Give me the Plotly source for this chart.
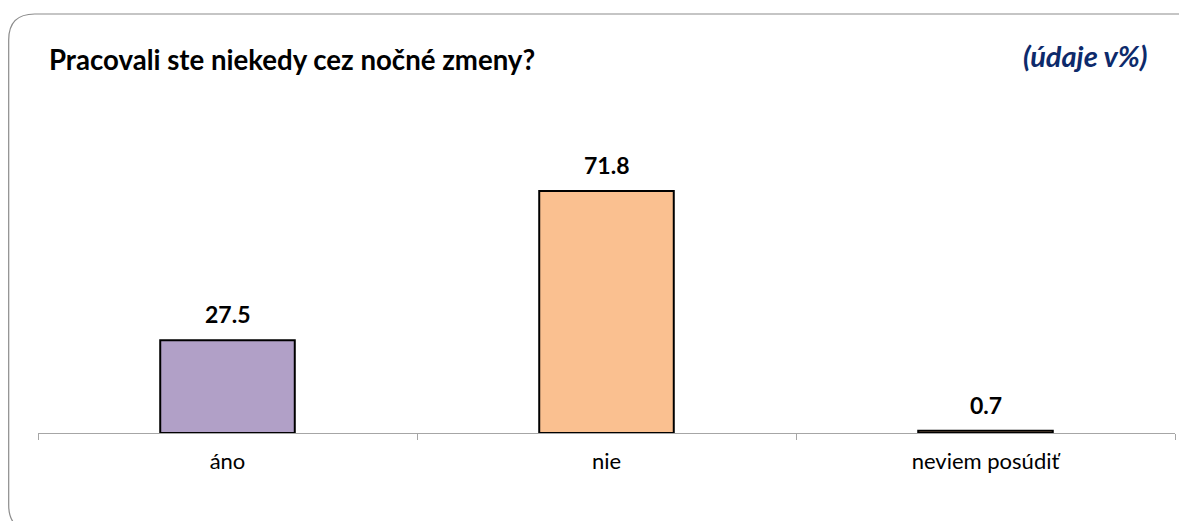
import plotly.graph_objects as go

categories = ["áno", "nie", "neviem posúdiť"]
values = [27.5, 71.8, 0.7]
bar_colors = ["#B1A0C7", "#FAC090", "#FAC090"]
title_text = "Pracovali ste niekedy cez nočné zmeny?"
unit_text = "(údaje v%)"

OFF = 8  # page body margin
W, H = 1187 - OFF, 521 - OFF
# plot area in page pixels
L, R, T, B = 38, 1175, 96, 433


def px(x):
    return (x - L) / (R - L)


def py(y):
    return (B - y) / (B - T)


FONT = "Lato"

fig = go.Figure()
fig.add_trace(go.Bar(
    x=categories, y=values,
    marker=dict(color=bar_colors, line=dict(color="#000000", width=2)),
    width=0.355,
    hoverinfo="skip",
))

for c, v in zip(categories, values):
    fig.add_annotation(x=c, y=v, text=f"<b>{v:.1f}</b>", showarrow=False,
                       yanchor="middle", yshift=26,
                       font=dict(family=FONT, size=23, color="#000000"))

# rounded frame (page pixel coords)
x0, y0, x1, y1, r = 8.7, 14, 1206, 531, 26
path = (f"M {px(x0)},{py(y0 + r)} "
        f"Q {px(x0)},{py(y0)} {px(x0 + r)},{py(y0)} "
        f"L {px(x1 - r)},{py(y0)} "
        f"Q {px(x1)},{py(y0)} {px(x1)},{py(y0 + r)} "
        f"L {px(x1)},{py(y1 - r)} "
        f"Q {px(x1)},{py(y1)} {px(x1 - r)},{py(y1)} "
        f"L {px(x0 + r)},{py(y1)} "
        f"Q {px(x0)},{py(y1)} {px(x0)},{py(y1 - r)} Z")
fig.add_shape(type="path", path=path, xref="paper", yref="paper",
              line=dict(color="#8C8C8C", width=1.2), layer="below")

fig.add_annotation(x=px(47), y=py(59), xref="paper", yref="paper",
                   text=f"<b>{title_text}</b>", showarrow=False,
                   xanchor="left", yanchor="middle",
                   font=dict(family=FONT, size=27.6, color="#000000"))
fig.add_annotation(x=px(1150), y=py(56), xref="paper", yref="paper",
                   text=f"<b><i>{unit_text}</i></b>", showarrow=False,
                   xanchor="right", yanchor="middle",
                   font=dict(family=FONT, size=29, color="#0D2A6B"))

fig.update_layout(
    width=W, height=H,
    margin=dict(l=L - OFF, r=W - (R - OFF), t=T - OFF, b=H - (B - OFF)),
    paper_bgcolor="white", plot_bgcolor="white",
    showlegend=False,
    bargap=0.645,
    font=dict(family=FONT, size=22, color="#000000"),
)
fig.update_xaxes(
    showline=True, linecolor="#A6A6A6", linewidth=1.3,
    ticks="outside", tickson="boundaries", ticklen=6, tickcolor="#A6A6A6",
    tickwidth=1.3, showgrid=False, zeroline=False, ticklabelstandoff=8,
    tickfont=dict(family=FONT, size=22, color="#000000"),
)
fig.update_yaxes(range=[0, 100], visible=False, showgrid=False, zeroline=False)

fig.write_html("out.html")
